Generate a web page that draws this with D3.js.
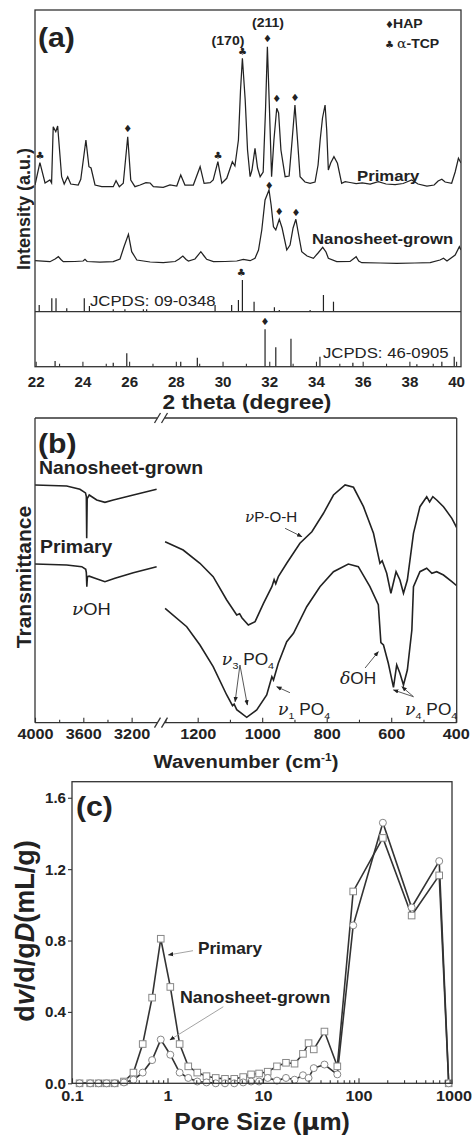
<!DOCTYPE html>
<html><head><meta charset="utf-8">
<script src="https://cdn.jsdelivr.net/npm/d3@7"></script>
<style>body{margin:0;background:#fff}svg{display:block}</style>
</head><body><svg id="c" width="473" height="1136"></svg>
<script>
// ---------------- DATA ----------------
// (a) XRD patterns: [2theta, intensity (a.u.)]
const xrdPrimary = [[21.97,182],[22.18,204.3],[22.40,184],[22.61,187],[22.68,184],[22.75,240.3],[22.86,235.3],[22.94,241],[23.11,190.3],[23.22,183],[23.37,190.3],[23.50,183],[23.82,182],[23.93,187.7],[24.15,227],[24.28,200.3],[24.37,199],[24.54,182],[24.83,180.3],[25.32,180.3],[25.44,186.3],[25.58,180.3],[25.75,183.7],[25.94,230.3],[26.07,187],[26.25,180.3],[26.47,182],[26.72,184.3],[26.9,184],[27.04,180.3],[27.46,179.7],[27.75,182],[28.04,181],[28.21,192],[28.39,182],[28.75,182],[29.04,200.3],[29.21,183.7],[29.47,184.3],[29.6,187],[29.8,205.3],[29.97,183.7],[30.18,188.7],[30.42,205.3],[30.53,201],[30.68,227],[30.77,277],[30.85,308.7],[30.97,267],[31.07,217],[31.18,190.3],[31.26,197],[31.39,218.7],[31.5,199],[31.61,190.3],[31.74,195],[31.84,257],[31.92,320.3],[32.01,257],[32.1,190.3],[32.2,227],[32.32,258.7],[32.4,254],[32.5,217],[32.68,190.3],[32.85,191],[32.98,227],[33.1,262],[33.21,227],[33.32,190.3],[33.53,185],[33.75,183.7],[33.96,185],[34.09,202],[34.18,227],[34.28,249],[34.39,262],[34.46,237],[34.53,197],[34.63,204],[34.77,210.3],[34.92,203.7],[35.1,183.7],[35.25,185.3],[35.46,184.5],[35.72,183.5],[35.98,184],[36.32,183],[36.67,185.3],[37.0,183],[37.39,182.5],[37.73,183.5],[38.1,187],[38.37,183],[38.75,181],[39.06,182],[39.23,186],[39.39,187.7],[39.53,185],[39.81,183.7],[39.96,195],[40.1,208.7],[40.21,204]];
const xrdNanosheet = [[21.97,106.3],[22.61,105.3],[22.83,108],[22.97,110.3],[23.08,107.5],[23.18,105.3],[23.68,105.5],[24.03,106],[24.11,107.7],[24.2,105.5],[24.75,105],[25.32,105.3],[25.61,108],[25.78,120.3],[25.97,132.7],[26.11,115.3],[26.33,107],[26.9,105],[27.46,104.3],[27.97,105.5],[28.14,108],[28.3,111],[28.44,107.5],[28.54,106],[28.82,108],[29.07,115.3],[29.21,111],[29.32,107.7],[29.61,105.3],[30.11,105.5],[30.61,106],[30.89,107.7],[31.18,106.3],[31.39,108.7],[31.54,117],[31.68,137],[31.82,167],[31.99,177],[32.08,162],[32.18,140.3],[32.28,137],[32.43,147.7],[32.55,139],[32.75,117],[32.89,122],[33.02,139],[33.14,147.7],[33.26,132],[33.39,115.3],[33.62,111],[33.89,108.7],[34.09,114],[34.29,119.7],[34.43,115],[34.53,108.7],[34.89,105.3],[35.46,105.5],[35.72,110.3],[35.83,106],[35.96,104.3],[36.75,104],[37.46,103.7],[38.24,104],[38.89,104.3],[39.31,107],[39.46,108.7],[39.61,106],[39.96,112],[40.14,120.3],[40.21,117]];
// reference sticks: [2theta, relative intensity]
const tcpSticks = [[22.15,6.7],[22.69,13.4],[22.87,13.4],[23.33,3.4],[24.08,13.4],[24.3,5.7],[25.32,2.4],[25.82,2.4],[26.61,2.4],[26.75,2.4],[29.68,6.7],[30.39,6.7],[30.68,11.7],[30.85,31.7],[31.35,10],[32.22,4.4],[32.43,1.7],[33.75,1.7],[34.32,16.7],[34.75,10]];
const hapSticks = [[22.83,5.7],[25.32,4],[25.9,13.4],[28.21,5],[28.92,9],[31.82,37.4],[32.28,19.4],[32.93,28],[34.17,10],[35.58,4],[38.32,2.4],[39.39,5],[39.92,10]];
// phase markers on patterns: [2theta, intensity, phase]
const markersA = [[22.18,212,"TCP"],[25.94,238.7,"HAP"],[29.8,212,"TCP"],[30.85,316,"TCP"],[31.92,328.7,"HAP"],[32.32,268.7,"HAP"],[33.1,269.7,"HAP"],[32.0,182,"HAP"],[32.43,155.3,"HAP"],[33.14,154.7,"HAP"]];
const stickMarkers = [[30.8,"TCP",30.85],[31.82,"HAP",31.82]];
const xTicksA = [22,24,26,28,30,32,34,36,38,40];

// (b) FTIR: [wavenumber, transmittance (a.u.)]
const ftirNanoHigh = [[4000,237.7],[3738,236.7],[3628,233.4],[3582,229.8],[3575,226],[3572,184.4],[3568,224],[3551,227.7],[3489,222.7],[3421,220.4],[3352,222.7],[3186,227.7],[2993,233.4]];
const ftirPrimHigh = [[4000,158.7],[3738,157.7],[3613,156],[3580,153.4],[3575,150],[3571,136],[3566,146],[3551,146.5],[3503,144.4],[3421,141],[3338,144.4],[3186,150],[2993,156]];
const ftirNanoLow = [[1301,181],[1245,172.7],[1193,159.4],[1152,146],[1110,122.7],[1079,107.7],[1070,109],[1063,105],[1043,97.7],[1022,101],[996,119.4],[970,136],[963,143],[958,139],[950,146],[924,159.4],[883,179.4],[846,191],[810,209.4],[779,227.7],[743,237.7],[717,235.4],[686,216],[655,189.4],[635,159.4],[628,162],[614,149.4],[601,129.4],[585,151],[573,142.7],[562,129.4],[550,142.7],[531,189.4],[511,216],[490,226],[481,220.7],[471,226],[459,222.7],[438,216],[412,204.4],[397,195]];
const ftirPrimLow = [[1301,114.4],[1234,96],[1193,77.7],[1152,56],[1110,27.7],[1092,17],[1087,18.5],[1079,13],[1048,5.4],[1017,12.7],[986,27.7],[970,46],[965,42.7],[950,59.4],[924,81],[903,89.4],[862,116],[821,136],[779,151],[733,158.7],[702,156],[666,136],[640,118],[632,80],[624,77.7],[609,59.4],[593,35.4],[583,57.7],[573,49.4],[562,37.7],[550,52.7],[536,92.7],[531,136],[511,151],[490,154.4],[474,149.4],[459,151],[438,147.7],[412,141],[397,137]];
const xTicksBL = [4000,3600,3200];
const xTicksBR = [1200,1000,800,600,400];

// (c) pore size distribution
const poreSize = [0.12,0.155,0.19,0.23,0.28,0.35,0.44,0.55,0.69,0.85,1.07,1.34,1.65,2.05,2.56,3.2,4,5,6.2,7.5,9.1,11.2,14,17.4,21.4,26.2,30,34,44,60,88,180,360,700,880];
const primaryPSD = [0,0,0,0,0,0.01,0.06,0.22,0.48,0.81,0.54,0.22,0.095,0.06,0.04,0.03,0.025,0.025,0.035,0.05,0.055,0.065,0.095,0.115,0.11,0.165,0.225,0.19,0.29,0.095,1.075,1.375,0.94,1.165,0];
const nanoPSD = [0,0,0,0,0,0.005,0.02,0.06,0.13,0.245,0.16,0.06,0.03,0.01,0.005,0,0,0,0.005,0.01,0.01,0.03,0.015,0.03,0.02,0.045,0.03,0.085,0.105,0.05,0.885,1.46,0.985,1.245,0];
const xTicksC = [0.1,1,10,100,1000];
const yTicksC = [0,0.4,0.8,1.2,1.6];

// ---------------- DRAWING ----------------
const FONT = "'Liberation Sans', Arial, Helvetica, sans-serif";
const K = 1.08;
const INK = "#222";
const svg = d3.select('#c');
svg.append('rect').attr('width',473).attr('height',1136).attr('fill','#fff');
const defs = svg.append('defs');
defs.append('marker').attr('id','ah').attr('viewBox','0 0 10 10').attr('refX',9).attr('refY',5)
  .attr('markerWidth',6).attr('markerHeight',6).attr('orient','auto')
  .append('path').attr('d','M0,1 L10,5 L0,9 z').attr('fill','#222');

function txt(g, x, y, s, size, o = {}) {
  const t = g.append('text')
    .attr('transform', `translate(${x},${y}) scale(${o.k ?? K},1)`)
    .attr('text-anchor', o.anchor || 'start')
    .style('font-family', o.family || FONT)
    .style('font-size', size + 'px')
    .style('font-weight', o.weight || 'bold')
    .style('font-style', o.style || 'normal')
    .attr('fill', o.fill || INK);
  if (s !== null) t.text(s);
  return t;
}
function clip(id, x, y, w, h) {
  defs.append('clipPath').attr('id', id).append('rect').attr('x', x).attr('y', y).attr('width', w).attr('height', h);
  return `url(#${id})`;
}
function styleAxis(g, ty, size) {
  g.select('.domain').remove();
  g.selectAll('.tick line').attr('stroke', '#333').attr('stroke-width', 1.1);
  g.selectAll('.tick text').attr('y', null).attr('dy', null).attr('transform', `translate(0,${ty}) scale(${K},1)`)
    .style('font-family', FONT).style('font-size', size + 'px').style('font-weight', 'bold').attr('fill', INK);
}
function vLabel(g, x, y, size) {
  return g.append('text').attr('transform', `translate(${x},${y}) rotate(-90)`).attr('text-anchor', 'middle')
    .style('font-family', FONT).style('font-size', size + 'px').style('font-weight', 'bold').attr('fill', INK);
}

// ===== Panel (a) =====
const gA = svg.append('g');
const xA = d3.scaleLinear().domain([21.97, 40.21]).range([35, 461]);
const yA = d3.scaleLinear().domain([0, 357]).range([367, 10]);
const yTcp = d3.scaleLinear().domain([0, 55]).range([311.7, 256.7]);
const yHap = d3.scaleLinear().domain([0, 55]).range([366.7, 311.7]);
const clipA = clip('clipA', 35, 10, 426, 357);
const lineA = d3.line().x(d => xA(d[0])).y(d => yA(d[1]));
[xrdPrimary, xrdNanosheet].forEach(s =>
  gA.append('path').datum(s).attr('d', lineA).attr('fill', 'none').attr('stroke', INK).attr('stroke-width', 1.25).attr('clip-path', clipA));
gA.selectAll('line.tcp').data(tcpSticks).join('line').attr('class', 'tcp')
  .attr('x1', d => xA(d[0])).attr('x2', d => xA(d[0])).attr('y1', yTcp(0)).attr('y2', d => yTcp(d[1]))
  .attr('stroke', INK).attr('stroke-width', 1.2);
gA.selectAll('line.hap').data(hapSticks).join('line').attr('class', 'hap')
  .attr('x1', d => xA(d[0])).attr('x2', d => xA(d[0])).attr('y1', yHap(0)).attr('y2', d => yHap(d[1]))
  .attr('stroke', INK).attr('stroke-width', 1.2);
gA.append('line').attr('x1', 35).attr('x2', 461).attr('y1', yTcp(0)).attr('y2', yTcp(0)).attr('stroke', '#333').attr('stroke-width', 1.2);
gA.append('rect').attr('x', 35).attr('y', 10).attr('width', 426).attr('height', 356.7).attr('fill', 'none').attr('stroke', '#333').attr('stroke-width', 1.3);
const sym = p => p === 'HAP' ? '\u2666' : '\u2663';
markersA.forEach(d => txt(gA, xA(d[0]), yA(d[1]) + 3.5, sym(d[2]), 10, {anchor: 'middle', family: 'DejaVu Sans', k: 1}));
stickMarkers.forEach(d => {
  const top = d[1] === 'TCP' ? yTcp(tcpSticks.find(s => s[0] === d[2])[1]) : yHap(hapSticks.find(s => s[0] === d[2])[1]);
  txt(gA, xA(d[0]), top - 4.5, sym(d[1]), 10, {anchor: 'middle', family: 'DejaVu Sans', k: 1});
});
gA.append('g').attr('transform', 'translate(0,366.7)').call(d3.axisBottom(xA).tickValues(d3.range(23, 40, 2)).tickSize(-3).tickFormat('')).call(g => styleAxis(g, 0, 12));
gA.append('g').attr('transform', 'translate(0,366.7)').call(d3.axisBottom(xA).tickValues(xTicksA).tickSize(-5).tickFormat(d3.format('d'))).call(g => styleAxis(g, 20.5, 14));
txt(gA, 38, 47, '(a)', 28);
txt(gA, 268, 27, '(211)', 13, {anchor: 'middle'});
txt(gA, 228, 44.5, '(170)', 13, {anchor: 'middle'});
txt(gA, 385, 28, '\u2666', 10, {family: 'DejaVu Sans', k: 1});
txt(gA, 393, 28, 'HAP', 13);
txt(gA, 385, 48, '\u2663', 10, {family: 'DejaVu Sans', k: 1});
const tt = txt(gA, 397, 48, null, 13);
tt.append('tspan').style('font-family', "'DejaVu Serif', serif").style('font-weight', 'normal').text('\u03b1');
tt.append('tspan').text('-TCP');
txt(gA, 357, 181, 'Primary', 15.5);
txt(gA, 312, 244, 'Nanosheet-grown', 15.5);
txt(gA, 90, 306, 'JCPDS: 09-0348', 15.5, {weight: 'normal'});
txt(gA, 323, 358, 'JCPDS: 46-0905', 15.5, {weight: 'normal'});
txt(gA, 247, 409, '2 theta (degree)', 21, {anchor: 'middle'});
vLabel(gA, 30, 209, 18).text('Intensity (a.u.)');

// ===== Panel (b) =====
const gB = svg.append('g');
const xBL = d3.scaleLinear().domain([4000, 2980]).range([35, 158.2]);
const xBR = d3.scaleLinear().domain([1310, 397]).range([162.2, 456.7]);
const yB = d3.scaleLinear().domain([0, 304.7]).range([722.7, 418]);
const clipBL = clip('clipBL', 35, 418, 123.2, 305);
const clipBR = clip('clipBR', 162.2, 418, 294.5, 305);
const lineBL = d3.line().x(d => xBL(d[0])).y(d => yB(d[1]));
const lineBR = d3.line().x(d => xBR(d[0])).y(d => yB(d[1]));
[ftirNanoHigh, ftirPrimHigh].forEach(s => gB.append('path').datum(s).attr('d', lineBL).attr('fill', 'none').attr('stroke', INK).attr('stroke-width', 1.6).attr('clip-path', clipBL));
[ftirNanoLow, ftirPrimLow].forEach(s => gB.append('path').datum(s).attr('d', lineBR).attr('fill', 'none').attr('stroke', INK).attr('stroke-width', 1.6).attr('clip-path', clipBR));
// frame with axis break
const fr = [[35, 418, 157.5, 418], [164.5, 418, 456.7, 418], [35, 722.7, 157.5, 722.7], [164.5, 722.7, 456.7, 722.7], [35, 418, 35, 722.7], [456.7, 418, 456.7, 722.7]];
fr.forEach(l => gB.append('line').attr('x1', l[0]).attr('y1', l[1]).attr('x2', l[2]).attr('y2', l[3]).attr('stroke', '#333').attr('stroke-width', 1.3));
[418, 722.7].forEach(y => [157.5, 164.5].forEach(x =>
  gB.append('line').attr('x1', x - 3).attr('y1', y + 5).attr('x2', x + 3).attr('y2', y - 5).attr('stroke', '#333').attr('stroke-width', 1.3)));
gB.append('g').attr('transform', 'translate(0,722.7)').call(d3.axisBottom(xBL).tickValues([3800, 3400]).tickSize(-3).tickFormat('')).call(g => styleAxis(g, 0, 12));
gB.append('g').attr('transform', 'translate(0,722.7)').call(d3.axisBottom(xBL).tickValues(xTicksBL).tickSize(-5).tickFormat(d3.format('d'))).call(g => styleAxis(g, 16, 15));
gB.append('g').attr('transform', 'translate(0,722.7)').call(d3.axisBottom(xBR).tickValues([1300, 1100, 900, 700, 500]).tickSize(-3).tickFormat('')).call(g => styleAxis(g, 0, 12));
gB.append('g').attr('transform', 'translate(0,722.7)').call(d3.axisBottom(xBR).tickValues(xTicksBR).tickSize(-5).tickFormat(d3.format('d'))).call(g => styleAxis(g, 16, 15));
txt(gB, 38, 453, '(b)', 28);
txt(gB, xBL(3967), yB(248.7), 'Nanosheet-grown', 18);
txt(gB, xBL(3959), yB(169.7), 'Primary', 18);
function nuLabel(g, x, y, greek, sub, rest, size) {
  const t = txt(g, x, y, null, size, {weight: 'normal'});
  t.append('tspan').style('font-family', "'DejaVu Serif', serif").style('font-style', 'italic').text(greek);
  if (sub) t.append('tspan').attr('dy', 4).style('font-size', (size * 0.62) + 'px').text(sub);
  if (sub) t.append('tspan').attr('dy', -4).text(' ');
  const parts = rest.split('_');
  t.append('tspan').text(parts[0]);
  if (parts[1]) t.append('tspan').attr('dy', 4).style('font-size', (size * 0.62) + 'px').text(parts[1]);
  return t;
}
nuLabel(gB, xBL(3694), yB(107.7), '\u03bd', '', 'OH', 17);
nuLabel(gB, xBR(1053), yB(200.7), '\u03bd', '', 'P-O-H', 14);
nuLabel(gB, xBR(1125), yB(57.7), '\u03bd', '3', 'PO_4', 16);
nuLabel(gB, xBR(951), yB(7.7), '\u03bd', '1', 'PO_4', 16);
nuLabel(gB, xBR(759), yB(38.7), '\u03b4', '', 'OH', 16);
nuLabel(gB, xBR(557), yB(7.7), '\u03bd', '4', 'PO_4', 16);
const arrowsB = [[929, 194.4, 877, 186], [1069, 57.7, 1084, 21], [1069, 57.7, 1046, 17.7], [914, 30, 955, 36], [681, 54.7, 640, 71], [531, 26, 593, 32.7], [531, 26, 567, 36]];
arrowsB.forEach(a => gB.append('line').attr('x1', xBR(a[0])).attr('y1', yB(a[1])).attr('x2', xBR(a[2])).attr('y2', yB(a[3]))
  .attr('stroke', '#444').attr('stroke-width', 0.9).attr('marker-end', 'url(#ah)'));
const wl = txt(gB, 246, 768, null, 18.7, {anchor: 'middle'});
wl.append('tspan').text('Wavenumber (cm');
wl.append('tspan').attr('dy', -7).style('font-size', '11px').text('-1');
wl.append('tspan').attr('dy', 7).text(')');
vLabel(gB, 31, 577, 21).text('Transmittance');

// ===== Panel (c) =====
const gC = svg.append('g');
const xC = d3.scaleLog().domain([0.1, 1000]).range([72, 454]);
const yC = d3.scaleLinear().domain([0, 1.69]).range([1083.3, 781.7]);
const psdP = poreSize.map((p, i) => [p, primaryPSD[i]]);
const psdN = poreSize.map((p, i) => [p, nanoPSD[i]]);
const lineC = d3.line().x(d => xC(d[0])).y(d => yC(d[1]));
gC.append('path').datum(psdN).attr('d', lineC).attr('fill', 'none').attr('stroke', '#333').attr('stroke-width', 1.6);
gC.append('path').datum(psdP).attr('d', lineC).attr('fill', 'none').attr('stroke', '#333').attr('stroke-width', 1.6);
gC.selectAll('rect.sq').data(psdP).join('rect').attr('class', 'sq')
  .attr('x', d => xC(d[0]) - 3.3).attr('y', d => yC(d[1]) - 3.3).attr('width', 6.6).attr('height', 6.6)
  .attr('fill', '#fff').attr('stroke', '#888').attr('stroke-width', 1);
gC.selectAll('circle.ci').data(psdN).join('circle').attr('class', 'ci')
  .attr('cx', d => xC(d[0])).attr('cy', d => yC(d[1])).attr('r', 3.5)
  .attr('fill', '#fff').attr('stroke', '#888').attr('stroke-width', 1);
gC.append('rect').attr('x', 72).attr('y', 781.7).attr('width', 380).attr('height', 301.6).attr('fill', 'none').attr('stroke', '#333').attr('stroke-width', 1.3);
const minorC = [];
[0.1, 1, 10, 100].forEach(d => { for (let m = 2; m <= 9; m++) minorC.push(d * m); });
gC.append('g').attr('transform', 'translate(0,1083.3)').call(d3.axisBottom(xC).tickValues(minorC).tickSize(-3).tickFormat('')).call(g => styleAxis(g, 0, 12));
gC.append('g').attr('transform', 'translate(0,1083.3)').call(d3.axisBottom(xC).tickValues(xTicksC.slice(0, 4)).tickSize(-5).tickFormat(d => String(d))).call(g => styleAxis(g, 18, 15));
txt(gC, xC(1000), 1101.3, '1000', 15, {anchor: 'middle'});
gC.append('g').attr('transform', 'translate(72,0)').call(d3.axisLeft(yC).tickValues(yTicksC).tickSize(4).tickFormat(d3.format('.1f')))
  .call(g => { styleAxis(g, 0, 14); g.selectAll('.tick text').attr('x', 0).attr('transform', `translate(-6,5) scale(${K},1)`); });
txt(gC, 76, 816, '(c)', 28);
txt(gC, xC(2.08), yC(0.725), 'Primary', 16);
txt(gC, xC(1.35), yC(0.45), 'Nanosheet-grown', 16.5);
const arrowsC = [[1.85, 0.743, 1.02, 0.719], [3.84, 0.429, 1.06, 0.243]];
arrowsC.forEach(a => gC.append('line').attr('x1', xC(a[0])).attr('y1', yC(a[1])).attr('x2', xC(a[2])).attr('y2', yC(a[3]))
  .attr('stroke', '#999').attr('stroke-width', 0.9).attr('marker-end', 'url(#ah)'));
const pl = txt(gC, 262, 1130, null, 23, {anchor: 'middle'});
pl.append('tspan').text('Pore Size (');
pl.append('tspan').style('font-family', "'DejaVu Sans', sans-serif").text('\u03bc');
pl.append('tspan').text('m)');
const yl = vLabel(gC, 34, 931, 27);
yl.append('tspan').text('d');
yl.append('tspan').style('font-style', 'italic').text('v');
yl.append('tspan').text('/d/g');
yl.append('tspan').style('font-style', 'italic').text('D');
yl.append('tspan').text('(mL/g)');
</script></body></html>
